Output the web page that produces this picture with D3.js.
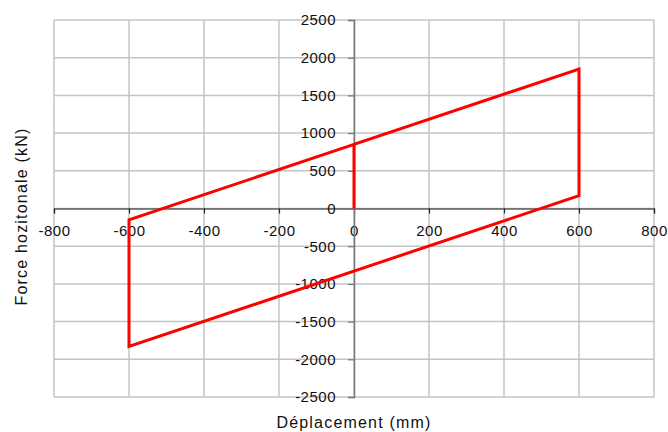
<!DOCTYPE html>
<html>
<head>
<meta charset="utf-8">
<script src="https://cdn.jsdelivr.net/npm/d3@7"></script>
<style>
  body { margin: 0; background: #fff; }
  text { font-family: "Liberation Sans", Arial, sans-serif; }
</style>
</head>
<body>
<div id="chart"></div>
<script>
// Hysteresis loop data (displacement in mm, force in kN)
const displacement = [0, 0, 600, 600, -600, -600, 0];
const force = [0, 850, 1850, 170, -1830, -150, 850];

const xTicks = [-800, -600, -400, -200, 0, 200, 400, 600, 800];
const yTicks = [-2500, -2000, -1500, -1000, -500, 0, 500, 1000, 1500, 2000, 2500];

const width = 668, height = 432;
const margin = { top: 20, right: 14, bottom: 35, left: 54 };

const svg = d3.select("#chart")
  .append("svg")
  .attr("width", width)
  .attr("height", height);

const x = d3.scaleLinear().domain([-800, 800]).range([margin.left, width - margin.right]);
const y = d3.scaleLinear().domain([-2500, 2500]).range([height - margin.bottom, margin.top]);

// plain labels with hyphen-minus, no thousands separator
const fmt = d => String(d);

// Gridlines
svg.append("g")
  .selectAll("line")
  .data(xTicks)
  .join("line")
  .attr("x1", d => x(d)).attr("x2", d => x(d))
  .attr("y1", y(2500)).attr("y2", y(-2500))
  .attr("stroke", "#c4c4c4")
  .attr("stroke-width", 1.5);

svg.append("g")
  .selectAll("line")
  .data(yTicks)
  .join("line")
  .attr("x1", x(-800)).attr("x2", x(800))
  .attr("y1", d => y(d)).attr("y2", d => y(d))
  .attr("stroke", "#c4c4c4")
  .attr("stroke-width", 1.5);

// Axes crossing at zero
const xAxis = d3.axisBottom(x).tickValues(xTicks).tickFormat(fmt).tickSize(5).tickPadding(12);
const yAxis = d3.axisLeft(y).tickValues(yTicks).tickFormat(fmt).tickSize(6).tickPadding(12);

const gx = svg.append("g")
  .attr("transform", "translate(0," + y(0) + ")")
  .call(xAxis);
gx.select(".domain").attr("stroke", "#222").attr("stroke-width", 1.2);
gx.selectAll(".tick line").attr("stroke", "#222").attr("stroke-width", 1.2);

const gy = svg.append("g")
  .attr("transform", "translate(" + x(0) + ",0)")
  .call(yAxis);
gy.select(".domain").attr("stroke", "#777").attr("stroke-width", 1.5);
gy.selectAll(".tick line").attr("stroke", "#777").attr("stroke-width", 1.2);

svg.selectAll(".tick text")
  .style("font-size", "15px")
  .style("letter-spacing", "0.5px")
  .attr("fill", "#111");

// Loop line
const line = d3.line()
  .x((d, i) => x(displacement[i]))
  .y((d, i) => y(force[i]));

svg.append("path")
  .datum(displacement)
  .attr("d", line)
  .attr("fill", "none")
  .attr("stroke", "#ff0000")
  .attr("stroke-width", 3)
  .attr("stroke-linejoin", "miter");

// Axis titles
svg.append("text")
  .attr("x", x(0))
  .attr("y", 428)
  .attr("text-anchor", "middle")
  .style("font-size", "16px")
  .style("letter-spacing", "1.2px")
  .attr("fill", "#111")
  .text("Déplacement (mm)");

svg.append("text")
  .attr("transform", "translate(27," + (y(0) + 8) + ") rotate(-90)")
  .attr("text-anchor", "middle")
  .style("font-size", "16px")
  .style("letter-spacing", "1.2px")
  .attr("fill", "#111")
  .text("Force hozitonale (kN)");
</script>
</body>
</html>
